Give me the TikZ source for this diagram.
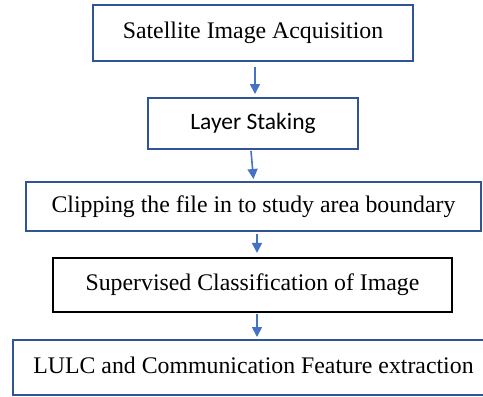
\documentclass[tikz,border=0pt]{standalone}
\usepackage{fontspec}
\setmainfont{Liberation Serif}
\newfontfamily\calib{Carlito}
\usetikzlibrary{arrows.meta}
\definecolor{boxblue}{HTML}{2F5597}
\definecolor{arrblue}{HTML}{4472C4}
\tikzset{
  flowbox/.style={draw=boxblue, line width=2pt, rectangle, inner sep=0pt, fill=white,
    font=\fontsize{23.8}{26}\selectfont, text height=16pt, text depth=5pt},
  arr/.style={draw=arrblue, line width=1.6pt, -{Triangle[width=10pt,length=10pt]}}
}
\begin{document}
\begin{tikzpicture}[x=1pt,y=-1pt]
\clip (0,0) rectangle (483,397);
\fill[white] (0,0) rectangle (483,397);
\node[flowbox, minimum width=320pt, minimum height=56pt] (b1) at (253,33) {Satellite Image Acquisition};
\node[flowbox, minimum width=210pt, minimum height=51pt, font=\calib\fontsize{23.5}{26}\selectfont] (b2) at (253,123.5) {Layer Staking};
\node[flowbox, minimum width=455pt, minimum height=49pt] (b3) at (253.5,206.5) {Clipping the file in to study area boundary};
\node[flowbox, draw=black, line width=2.2pt, minimum width=399pt, minimum height=54pt] (b4) at (252.5,285) {Supervised Classification of Image};
\node[flowbox, minimum width=481pt, minimum height=55pt] (b5) at (253.5,367.5) {LULC and Communication Feature extraction};
\draw[arr] ([xshift=2pt,yshift=-5pt]b1.south) -- ([xshift=2pt,yshift=3pt]b2.north);
\draw[arr] ([xshift=-2pt,yshift=-1pt]b2.south) -- ([xshift=0pt,yshift=2pt]b3.north);
\draw[arr] ([xshift=3.5pt,yshift=-2pt]b3.south) -- ([xshift=4.5pt,yshift=4pt]b4.north);
\draw[arr] ([xshift=4.5pt,yshift=-1pt]b4.south) -- ([xshift=3.5pt,yshift=2pt]b5.north);
\end{tikzpicture}
\end{document}
